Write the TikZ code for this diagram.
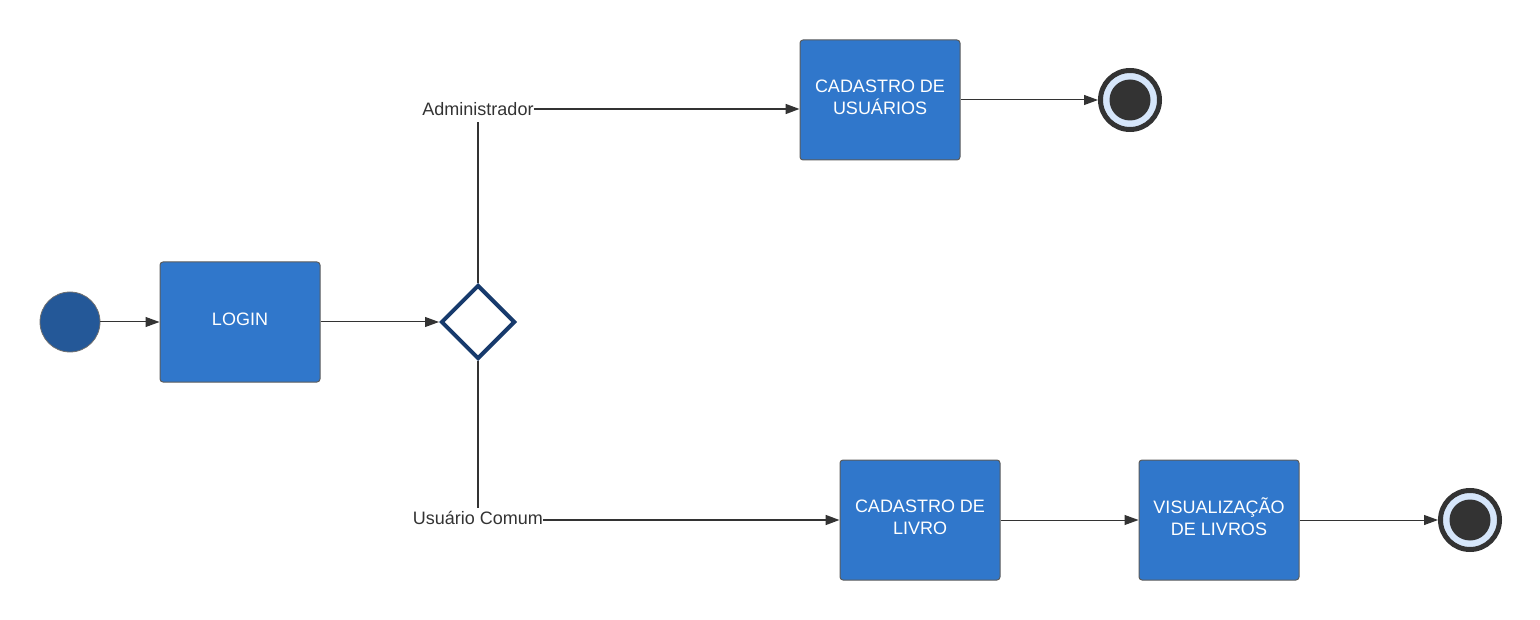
\documentclass[tikz,border=0pt]{standalone}
\usepackage{fontspec}
\setmainfont{Liberation Sans}
\usetikzlibrary{shapes.geometric,arrows.meta}
\definecolor{boxblue}{HTML}{3077CB}
\definecolor{startblue}{HTML}{245898}
\definecolor{diablue}{HTML}{173A6C}
\definecolor{lineg}{HTML}{333333}
\definecolor{ringlight}{HTML}{D6E6FA}
\begin{document}
\begin{tikzpicture}[x=1pt,y=-1pt,
  actbox/.style={draw=lineg!80,line width=1pt,fill=boxblue,rounded corners=3pt,minimum width=160pt,minimum height=120pt,inner sep=0pt,text=white,align=center,font=\fontsize{18}{22}\selectfont,text depth=6pt},
  conn/.style={draw=lineg,line width=1pt,-{Triangle[length=14pt,width=10pt]}},
  branch/.style={draw=lineg,line width=1.8pt},
  lbl/.style={inner sep=0pt,text=lineg,font=\fontsize{18}{21}\selectfont},
  endring/.style={circle,draw=lineg,line width=5pt,fill=ringlight,minimum size=59pt,inner sep=0pt}
]
\useasboundingbox (0,0) rectangle (1540,620);
\node[circle,draw=lineg!70,line width=0.8pt,fill=startblue,minimum size=60pt,inner sep=0pt] (start) at (70,322) {};
\node[actbox] (login) at (240,322) {LOGIN};
\node[diamond,draw=diablue,line width=4pt,fill=white,minimum width=74pt,minimum height=74pt,inner sep=0pt] (dec) at (478,322) {};
\node[lbl,minimum height=26pt] (adm) at (478,109) {Administrador};
\node[lbl,minimum height=20pt] (uc) at (478,518) {Usuário Comum};
\node[actbox] (cadu) at (880,100) {CADASTRO DE\\USUÁRIOS};
\node[actbox] (cadl) at (920,520) {CADASTRO DE\\LIVRO};
\node[actbox] (vis) at (1219,520) {VISUALIZAÇÃO\\DE LIVROS};
\node[endring] (end1) at (1130,100) {};
\node[circle,fill=lineg,minimum size=41pt,inner sep=0pt] (end1in) at (end1) {};
\node[endring] (end2) at (1470,520) {};
\node[circle,fill=lineg,minimum size=41pt,inner sep=0pt] (end2in) at (end2) {};
\draw[conn] (start) -- (login);
\draw[conn] (login) -- (dec.west);
\draw[branch] (dec.north) -- (adm.south);
\draw[branch] (dec.south) -- (uc.north);
\draw[conn,line width=1.6pt] (adm.east) -- (cadu.west |- adm.east);
\draw[conn,line width=1.6pt] (uc.east |- cadl.west) -- (cadl.west);
\draw[conn] (cadu.east) -- (end1.west);
\draw[conn] (cadl) -- (vis);
\draw[conn] (vis) -- (end2.west);
\end{tikzpicture}
\end{document}
